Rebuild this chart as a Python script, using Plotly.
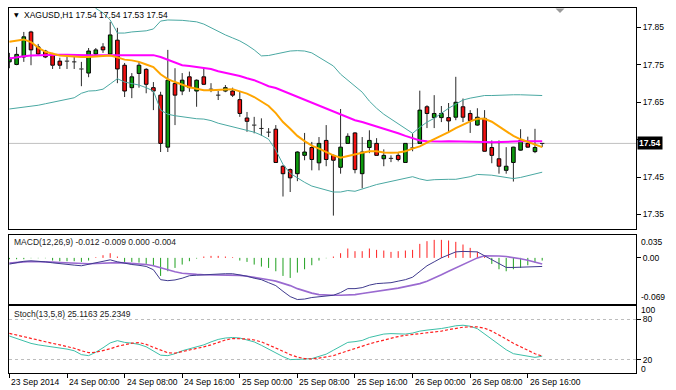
import plotly.graph_objects as go

# ---------------- data ----------------
symbol_title = "XAGUSD,H1 17.54 17.54 17.53 17.54"
macd_title = "MACD(12,26,9) -0.012 -0.009 0.000 -0.004"
stoch_title = "Stoch(13,5,8) 25.1163 25.2349"

time_tick_idx = [0, 8, 16, 24, 32, 40, 48, 56, 64, 72]
time_tick_text = ["23 Sep 2014", "24 Sep 00:00", "24 Sep 08:00", "24 Sep 16:00",
                  "25 Sep 00:00", "25 Sep 08:00", "25 Sep 16:00", "26 Sep 00:00",
                  "26 Sep 08:00", "26 Sep 16:00"]

price_ticks = [17.35, 17.45, 17.55, 17.65, 17.75, 17.85]
last_price = 17.54

open_ = [17.758, 17.751, 17.771, 17.838, 17.798, 17.787, 17.778, 17.760, 17.761, 17.758,
         17.740, 17.728, 17.779, 17.798, 17.779, 17.816, 17.749, 17.689, 17.727, 17.738,
         17.689, 17.669, 17.530, 17.700, 17.680, 17.718, 17.680, 17.718, 17.686, 17.669,
         17.680, 17.680, 17.657, 17.608, 17.590, 17.581, 17.570, 17.578, 17.479, 17.470,
         17.459, 17.508, 17.529, 17.488, 17.548, 17.508, 17.476, 17.540, 17.568, 17.459,
         17.529, 17.540, 17.499, 17.499, 17.508, 17.489, 17.529, 17.540, 17.638, 17.609,
         17.609, 17.609, 17.610, 17.638, 17.620, 17.589, 17.607, 17.529, 17.499, 17.468,
         17.489, 17.522, 17.540, 17.518, 17.540]
high = [17.782, 17.798, 17.838, 17.841, 17.806, 17.790, 17.782, 17.769, 17.771, 17.771,
        17.758, 17.795, 17.795, 17.808, 17.865, 17.849, 17.755, 17.728, 17.758, 17.741,
        17.704, 17.678, 17.790, 17.741, 17.728, 17.732, 17.711, 17.741, 17.701, 17.680,
        17.696, 17.689, 17.680, 17.624, 17.611, 17.607, 17.581, 17.589, 17.482, 17.473,
        17.519, 17.568, 17.544, 17.557, 17.589, 17.510, 17.632, 17.567, 17.570, 17.557,
        17.575, 17.554, 17.524, 17.508, 17.514, 17.541, 17.567, 17.681, 17.642, 17.669,
        17.640, 17.648, 17.718, 17.660, 17.629, 17.634, 17.629, 17.548, 17.548, 17.530,
        17.531, 17.578, 17.558, 17.579, 17.540]
low = [17.741, 17.749, 17.758, 17.749, 17.776, 17.768, 17.739, 17.739, 17.739, 17.739,
       17.693, 17.717, 17.771, 17.782, 17.776, 17.701, 17.664, 17.661, 17.689, 17.674,
       17.629, 17.517, 17.517, 17.589, 17.669, 17.678, 17.638, 17.696, 17.677, 17.656,
       17.677, 17.664, 17.611, 17.571, 17.567, 17.560, 17.557, 17.488, 17.398, 17.410,
       17.439, 17.495, 17.468, 17.468, 17.479, 17.347, 17.459, 17.539, 17.460, 17.420,
       17.514, 17.507, 17.479, 17.490, 17.492, 17.488, 17.519, 17.539, 17.581, 17.581,
       17.597, 17.568, 17.602, 17.597, 17.568, 17.587, 17.518, 17.487, 17.459, 17.459,
       17.438, 17.520, 17.528, 17.514, 17.530]
close = [17.768, 17.778, 17.825, 17.790, 17.779, 17.771, 17.749, 17.749, 17.760, 17.758,
         17.739, 17.787, 17.790, 17.790, 17.830, 17.739, 17.680, 17.718, 17.749, 17.698,
         17.680, 17.540, 17.709, 17.669, 17.709, 17.689, 17.709, 17.698, 17.685, 17.669,
         17.689, 17.669, 17.620, 17.599, 17.589, 17.580, 17.570, 17.489, 17.459, 17.448,
         17.517, 17.517, 17.497, 17.540, 17.497, 17.495, 17.530, 17.559, 17.470, 17.517,
         17.548, 17.508, 17.508, 17.500, 17.497, 17.540, 17.528, 17.629, 17.620, 17.620,
         17.620, 17.600, 17.650, 17.610, 17.601, 17.610, 17.519, 17.508, 17.479, 17.479,
         17.530, 17.548, 17.530, 17.529, 17.540]

ma_slow = [17.767, 17.771, 17.773, 17.775, 17.776, 17.776, 17.776, 17.777, 17.777, 17.776,
           17.776, 17.776, 17.776, 17.776, 17.776, 17.776, 17.776, 17.776, 17.776, 17.776,
           17.776, 17.771, 17.763, 17.755, 17.749, 17.747, 17.744, 17.741, 17.739, 17.733,
           17.729, 17.725, 17.720, 17.714, 17.709, 17.701, 17.693, 17.688, 17.680, 17.672,
           17.664, 17.657, 17.650, 17.642, 17.634, 17.626, 17.618, 17.610, 17.602, 17.597,
           17.590, 17.585, 17.579, 17.574, 17.567, 17.560, 17.554, 17.548, 17.546, 17.545,
           17.545, 17.546, 17.546, 17.545, 17.545, 17.544, 17.544, 17.543, 17.543, 17.544,
           17.545, 17.546, 17.546, 17.546, 17.546]
ma_fast = [17.812, 17.815, 17.818, 17.811, 17.796, 17.785, 17.779, 17.775, 17.774, 17.772,
           17.771, 17.771, 17.772, 17.774, 17.775, 17.770, 17.764, 17.762, 17.758, 17.751,
           17.744, 17.725, 17.712, 17.704, 17.697, 17.690, 17.686, 17.682, 17.682, 17.682,
           17.684, 17.685, 17.680, 17.673, 17.664, 17.653, 17.640, 17.621, 17.597, 17.579,
           17.560, 17.546, 17.534, 17.526, 17.516, 17.508, 17.502, 17.507, 17.511, 17.515,
           17.519, 17.519, 17.516, 17.515, 17.516, 17.519, 17.526, 17.532, 17.542, 17.551,
           17.559, 17.570, 17.581, 17.591, 17.599, 17.606, 17.606, 17.598, 17.585, 17.571,
           17.560, 17.551, 17.544, 17.536, 17.530]
bb_upper = [17.935, 17.935, 17.935, 17.935, 17.935, 17.935, 17.935, 17.935, 17.935, 17.935,
            17.935, 17.922, 17.901, 17.889, 17.870, 17.835, 17.835, 17.838, 17.839, 17.841,
            17.846, 17.867, 17.870, 17.870, 17.869, 17.867, 17.865, 17.859, 17.849, 17.838,
            17.830, 17.822, 17.814, 17.803, 17.790, 17.774, 17.775, 17.779, 17.784, 17.787,
            17.788, 17.787, 17.782, 17.771, 17.760, 17.747, 17.725, 17.709, 17.693, 17.677,
            17.653, 17.634, 17.618, 17.605, 17.591, 17.578, 17.567, 17.583, 17.597, 17.607,
            17.621, 17.634, 17.645, 17.656, 17.661, 17.665, 17.668, 17.668, 17.669, 17.670,
            17.670, 17.670, 17.670, 17.669, 17.668]
bb_lower = [17.632, 17.634, 17.637, 17.640, 17.642, 17.646, 17.650, 17.654, 17.658, 17.662,
            17.674, 17.680, 17.681, 17.685, 17.699, 17.713, 17.704, 17.700, 17.696, 17.689,
            17.680, 17.629, 17.618, 17.614, 17.611, 17.609, 17.606, 17.605, 17.601, 17.594,
            17.589, 17.585, 17.581, 17.575, 17.570, 17.562, 17.551, 17.522, 17.484, 17.460,
            17.447, 17.436, 17.426, 17.420, 17.414, 17.410, 17.410, 17.414, 17.412, 17.417,
            17.424, 17.430, 17.434, 17.438, 17.441, 17.447, 17.451, 17.445, 17.441, 17.443,
            17.444, 17.444, 17.444, 17.447, 17.451, 17.457, 17.457, 17.455, 17.452, 17.449,
            17.446, 17.449, 17.453, 17.459, 17.463]

macd_main = [-0.0093, -0.0074, -0.0051, -0.0044, -0.0048, -0.0059, -0.0074, -0.0088, -0.0099, -0.0108,
             -0.0118, -0.0096, -0.0074, -0.0054, -0.0029, -0.0059, -0.0081, -0.0099, -0.0111, -0.0128,
             -0.0177, -0.0326, -0.0341, -0.0330, -0.0304, -0.0267, -0.0259, -0.0252, -0.0252, -0.0244,
             -0.0237, -0.0237, -0.0252, -0.0274, -0.0304, -0.0326, -0.0371, -0.0415, -0.0500, -0.0579,
             -0.0623, -0.0616, -0.0593, -0.0579, -0.0564, -0.0559, -0.0519, -0.0460, -0.0460, -0.0445,
             -0.0408, -0.0385, -0.0378, -0.0371, -0.0348, -0.0326, -0.0289, -0.0207, -0.0118, -0.0059,
             0.0000, 0.0045, 0.0090, 0.0097, 0.0094, 0.0090, 0.0031, -0.0029, -0.0088, -0.0143,
             -0.0143, -0.0140, -0.0137, -0.0133, -0.0128]
macd_signal = [-0.0078, -0.0066, -0.0059, -0.0054, -0.0054, -0.0059, -0.0063, -0.0069, -0.0074, -0.0078,
               -0.0086, -0.0088, -0.0084, -0.0078, -0.0071, -0.0071, -0.0074, -0.0081, -0.0088, -0.0100,
               -0.0118, -0.0148, -0.0185, -0.0207, -0.0229, -0.0241, -0.0247, -0.0252, -0.0252, -0.0252,
               -0.0255, -0.0259, -0.0262, -0.0274, -0.0289, -0.0304, -0.0326, -0.0348, -0.0378, -0.0415,
               -0.0460, -0.0497, -0.0527, -0.0549, -0.0559, -0.0559, -0.0559, -0.0559, -0.0549, -0.0534,
               -0.0519, -0.0504, -0.0489, -0.0475, -0.0452, -0.0430, -0.0408, -0.0385, -0.0348, -0.0304,
               -0.0252, -0.0200, -0.0148, -0.0096, -0.0044, 0.0000, 0.0031, 0.0035, 0.0028, 0.0020,
               0.0008, -0.0014, -0.0036, -0.0063, -0.0093]
macd_hist = [-0.002, -0.002, -0.002, -0.0005, -0.0005, -0.0005, -0.004, -0.005, -0.005, -0.005,
             -0.006, -0.004, 0.001, 0.004, 0.007, 0.002, -0.006, -0.006, -0.007, -0.009,
             -0.012, -0.027, -0.020, -0.015, -0.010, -0.005, -0.001, 0.002, 0.003, 0.003,
             0.002, 0.001, -0.004, -0.006, -0.010, -0.013, -0.015, -0.020, -0.027, -0.030,
             -0.022, -0.017, -0.011, -0.004, -0.0005, 0.002, 0.007, 0.014, 0.010, 0.010,
             0.014, 0.012, 0.011, 0.009, 0.010, 0.011, 0.012, 0.021, 0.025, 0.027,
             0.027, 0.026, 0.024, 0.020, 0.015, 0.009, 0.002, -0.009, -0.017, -0.020,
             -0.017, -0.015, -0.011, -0.007, -0.004]

stoch_main = [55.2, 51.5, 47.9, 44.2, 42.0, 40.5, 39.1, 37.6, 35.7, 33.2,
              27.4, 25.9, 31.0, 37.6, 44.9, 48.3, 45.7, 44.5, 42.7, 39.1,
              33.2, 26.6, 25.9, 28.8, 33.2, 36.1, 38.6, 42.0, 46.4, 50.1,
              52.2, 53.0, 52.2, 49.3, 46.4, 41.3, 35.4, 30.3, 24.4, 20.0,
              20.0, 20.8, 21.5, 24.4, 28.1, 34.0, 39.8, 45.7, 46.8, 48.6,
              53.0, 55.9, 58.1, 58.8, 58.5, 58.1, 59.6, 62.5, 64.0, 64.7,
              66.4, 68.3, 70.5, 71.3, 69.8, 66.1, 58.1, 50.8, 42.0, 34.7,
              28.8, 26.6, 25.2, 23.3, 25.1]
stoch_signal = [59.1, 56.6, 53.7, 50.8, 48.6, 46.4, 44.2, 42.0, 39.5, 36.9,
                33.2, 30.3, 31.0, 33.2, 36.1, 39.8, 42.7, 44.5, 45.4, 42.7,
                38.3, 34.0, 30.3, 29.6, 31.8, 34.0, 36.1, 39.1, 42.0, 45.7,
                49.3, 51.5, 51.5, 50.8, 49.3, 46.4, 42.0, 37.6, 32.5, 27.4,
                23.7, 21.5, 21.1, 22.2, 23.7, 25.9, 29.6, 33.2, 36.9, 40.5,
                43.5, 46.4, 49.3, 52.2, 54.4, 56.2, 57.4, 58.5, 59.6, 61.0,
                62.5, 64.7, 66.9, 68.3, 68.8, 68.8, 66.9, 62.5, 56.6, 50.1,
                44.5, 39.1, 34.0, 28.8, 25.2]

# ---------------- layout helpers ----------------
W, H = 676, 390
FONT = "Liberation Sans"
FS = 8.5


def pxx(x):
    return x / W


def pxy(y):
    return 1 - y / H


n = len(close)
idx = list(range(n))
XR = [-0.056, 87.03]
XDOM = [pxx(9), pxx(636)]
DOM_MAIN = [pxy(228.5), pxy(8)]
DOM_MACD = [pxy(304), pxy(234.5)]
DOM_STOCH = [pxy(373), pxy(306)]

fig = go.Figure()

# candle wicks (upper and lower parts only, so they don't cross bodies)
wx, wy = [], []
for i in idx:
    top = max(open_[i], close[i])
    bot = min(open_[i], close[i])
    wx += [i, i, None, i, i, None]
    wy += [high[i], top, None, bot, low[i], None]
fig.add_trace(go.Scatter(x=wx, y=wy, mode="lines", line=dict(color="#2a2a2a", width=1),
                         hoverinfo="skip", showlegend=False, xaxis="x", yaxis="y"))

# candle bodies
doji = [abs(close[i] - open_[i]) < 0.0015 for i in idx]
bull = [i for i in idx if close[i] > open_[i] and not doji[i]]
bear = [i for i in idx if close[i] < open_[i] and not doji[i]]
for sel, col in ((bull, "#0c9a0c"), (bear, "#f01010")):
    fig.add_trace(go.Bar(x=sel, y=[abs(close[i] - open_[i]) for i in sel],
                         base=[min(open_[i], close[i]) for i in sel], width=0.5,
                         marker=dict(color=col, line=dict(color="#000000", width=1)),
                         hoverinfo="skip", showlegend=False, xaxis="x", yaxis="y"))
dx, dy = [], []
for i in idx:
    if doji[i]:
        dx += [i - 0.3, i + 0.3, None]
        dy += [close[i], close[i], None]
fig.add_trace(go.Scatter(x=dx, y=dy, mode="lines", line=dict(color="#1a1a1a", width=1),
                         hoverinfo="skip", showlegend=False, xaxis="x", yaxis="y"))

# indicators on the main chart
for ys, col, w in ((bb_upper, "#4aa8a2", 1), (bb_lower, "#4aa8a2", 1),
                   (ma_slow, "#ff00ff", 2), (ma_fast, "#ffa500", 2)):
    fig.add_trace(go.Scatter(x=idx, y=ys, mode="lines", line=dict(color=col, width=w),
                             hoverinfo="skip", showlegend=False, xaxis="x", yaxis="y"))

# MACD histogram
for sign, col in ((1, "#ff2020"), (-1, "#1fa01f")):
    hx, hy = [], []
    for i in idx:
        v = macd_hist[i]
        if v * sign > 0:
            hx += [i, i, None]
            hy += [0, v, None]
    fig.add_trace(go.Scatter(x=hx, y=hy, mode="lines", line=dict(color=col, width=1),
                             hoverinfo="skip", showlegend=False, xaxis="x2", yaxis="y2"))
fig.add_trace(go.Scatter(x=idx, y=macd_signal, mode="lines", line=dict(color="#9a6ad0", width=1.6),
                         hoverinfo="skip", showlegend=False, xaxis="x2", yaxis="y2"))
fig.add_trace(go.Scatter(x=idx, y=macd_main, mode="lines", line=dict(color="#3f3a8e", width=1),
                         hoverinfo="skip", showlegend=False, xaxis="x2", yaxis="y2"))

# Stochastic
fig.add_trace(go.Scatter(x=idx, y=stoch_main, mode="lines", line=dict(color="#3cbfa8", width=1),
                         hoverinfo="skip", showlegend=False, xaxis="x3", yaxis="y3"))
fig.add_trace(go.Scatter(x=idx, y=stoch_signal, mode="lines",
                         line=dict(color="#ff2020", width=1.2, dash="3px,2px"),
                         hoverinfo="skip", showlegend=False, xaxis="x3", yaxis="y3"))

axis_common = dict(showline=True, mirror=True, linecolor="#000000", linewidth=1,
                   showgrid=False, zeroline=False, fixedrange=True)
tickfont = dict(family=FONT, size=FS, color="#000000")

# the 17.55 label sits under the current-price box, as in the original
price_ticktext = ["" if abs(v - last_price) < 0.02 else f"{v:.2f}" for v in price_ticks]

fig.update_layout(
    width=W, height=H, margin=dict(l=0, r=0, t=0, b=0),
    paper_bgcolor="#ffffff", plot_bgcolor="#ffffff",
    barmode="overlay", showlegend=False,
    font=dict(family=FONT, size=FS, color="#000000"),
    xaxis=dict(domain=XDOM, range=XR, anchor="y", showticklabels=False, ticks="", **axis_common),
    xaxis2=dict(domain=XDOM, range=XR, anchor="y2", matches="x", showticklabels=False, ticks="",
                **axis_common),
    xaxis3=dict(domain=XDOM, range=XR, anchor="y3", matches="x", showticklabels=False,
                ticks="outside", ticklen=4, tickcolor="#000000",
                tickmode="array", tickvals=time_tick_idx, **axis_common),
    yaxis=dict(domain=DOM_MAIN, range=[17.3125, 17.902], anchor="x", side="right",
               ticks="outside", ticklen=4, tickcolor="#000000", tickmode="array",
               tickvals=price_ticks, ticktext=price_ticktext,
               tickfont=tickfont, **axis_common),
    yaxis2=dict(domain=DOM_MACD, range=[-0.069, 0.035], anchor="x2", side="right",
                ticks="outside", ticklen=4, tickcolor="#000000", tickmode="array",
                tickvals=[0.0], ticktext=["0.00"], tickfont=tickfont, **axis_common),
    yaxis3=dict(domain=DOM_STOCH, range=[0, 100], anchor="x3", side="right",
                ticks="outside", ticklen=4, tickcolor="#000000", tickmode="array",
                tickvals=[20, 80], ticktext=["20", "80"], tickfont=tickfont,
                showline=True, mirror=True, linecolor="#000000", linewidth=1,
                showgrid=True, gridcolor="#bdbdbd", griddash="dot", gridwidth=1,
                zeroline=False, fixedrange=True),
)

shapes = []
# bid line
shapes.append(dict(type="line", xref="x domain", x0=0, x1=1, yref="y", y0=last_price, y1=last_price,
                   line=dict(color="#c0c0c0", width=1), layer="below"))
# chart-shift marker
shapes.append(dict(type="path", xref="paper", yref="paper",
                   path=f"M {pxx(555.5)} {pxy(8.5)} L {pxx(564.5)} {pxy(8.5)} L {pxx(560)} {pxy(13)} Z",
                   fillcolor="#9a9a9a", line=dict(width=0)))
fig.update_layout(shapes=shapes)

ann = []
ann.append(dict(xref="paper", yref="paper", x=pxx(11.5), y=pxy(15), xanchor="left", yanchor="middle",
                text="▼", showarrow=False, font=dict(family="DejaVu Sans", size=6, color="#000000")))
ann.append(dict(xref="paper", yref="paper", x=pxx(21.5), y=pxy(15), xanchor="left", yanchor="middle",
                text=symbol_title, showarrow=False,
                font=dict(family=FONT, size=FS, color="#000000")))
ann.append(dict(xref="paper", yref="paper", x=pxx(12), y=pxy(242.3), xanchor="left", yanchor="middle",
                text=macd_title, showarrow=False, font=dict(family=FONT, size=FS, color="#1a1a1a")))
ann.append(dict(xref="paper", yref="paper", x=pxx(12), y=pxy(314), xanchor="left", yanchor="middle",
                text=stoch_title, showarrow=False, font=dict(family=FONT, size=FS, color="#1a1a1a")))
# current price box
ann.append(dict(xref="paper", yref="y", x=pxx(636.5), y=last_price, xanchor="left", yanchor="middle",
                text=f"<b>{last_price:.2f}</b>", showarrow=False, bgcolor="#000000", borderpad=1,
                font=dict(family=FONT, size=FS, color="#ffffff")))
# edge labels of sub windows
for yv, yr, anc, txt, ys in ((0.035, "y2", "top", "0.035", 0), (-0.069, "y2", "bottom", "-0.069", 0),
                             (100, "y3", "top", "100", 3), (0, "y3", "bottom", "0", -3)):
    ann.append(dict(xref="paper", yref=yr, x=pxx(639), y=yv, xanchor="left", yanchor=anc,
                    yshift=ys, text=txt, showarrow=False,
                    font=dict(family=FONT, size=FS, color="#000000")))
# time labels
for t, lab in zip(time_tick_idx, time_tick_text):
    ann.append(dict(xref="x3", yref="paper", x=t, y=pxy(382), xanchor="left", yanchor="middle",
                    text=lab, showarrow=False,
                    font=dict(family=FONT, size=FS, color="#000000")))
fig.update_layout(annotations=ann)

fig.write_html("out.html", default_width="676px", default_height="390px",
               config={"displayModeBar": False, "staticPlot": True},
               post_script="document.body.style.margin='0';document.body.style.padding='0';"
                           "document.body.style.overflow='hidden';")
